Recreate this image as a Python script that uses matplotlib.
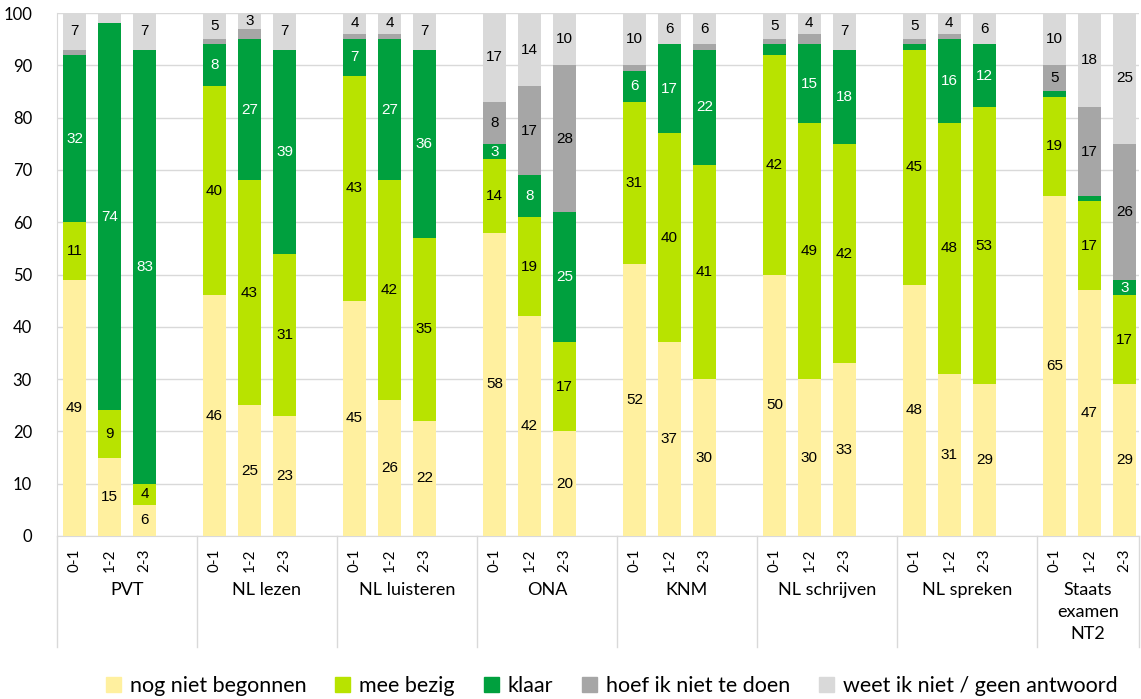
import numpy as np
import matplotlib
matplotlib.use("Agg")
import matplotlib.pyplot as plt
from matplotlib.patches import Patch
import matplotlib.transforms as mtransforms

# data (percent), per group: three periods 0-1, 1-2, 2-3
groups = ["PVT", "NL lezen", "NL luisteren", "ONA", "KNM", "NL schrijven", "NL spreken", "Staats\nexamen\nNT2"]
periods = ["0-1", "1-2", "2-3"]
series = ["nog niet begonnen", "mee bezig", "klaar", "hoef ik niet te doen", "weet ik niet / geen antwoord"]

nog = [49, 15, 6,  46, 25, 23,  45, 26, 22,  58, 42, 20,  52, 37, 30,  50, 30, 33,  48, 31, 29,  65, 47, 29]
mee = [11, 9, 4,   40, 43, 31,  43, 42, 35,  14, 19, 17,  31, 40, 41,  42, 49, 42,  45, 48, 53,  19, 17, 17]
klaar = [32, 74, 83,  8, 27, 39,  7, 27, 36,  3, 8, 25,  6, 17, 22,  2, 15, 18,  1, 16, 12,  1, 1, 3]
hoef = [1, 0, 0,   1, 2, 0,   1, 1, 0,   8, 17, 28,  1, 0, 1,   1, 2, 0,   1, 1, 0,   5, 17, 26]
weet = [7, 2, 7,   5, 3, 7,   4, 4, 7,   17, 14, 10,  10, 6, 6,  5, 4, 7,   5, 4, 6,   10, 18, 25]

colors = ["#FFF09F", "#B8E300", "#00A03E", "#A6A6A6", "#D9D9D9"]
text_colors = ["black", "black", "white", "black", "black"]

font = ["Lato", "DejaVu Sans"]
label_font = ["Liberation Sans", "DejaVu Sans"]

x = np.array([4 * g + j for g in range(len(groups)) for j in range(3)])
x_end = 30.42

fig = plt.figure(figsize=(11.41, 6.99), dpi=100)
ax = fig.add_axes([57 / 1141, 1 - 536 / 699, (1139 - 57) / 1141, (536 - 13) / 699])

bottom = np.zeros(len(x))
for vals, col, tc, name in zip([nog, mee, klaar, hoef, weet], colors, text_colors, series):
    vals = np.array(vals, dtype=float)
    ax.bar(x, vals, bottom=bottom, width=0.66, color=col, label=name, zorder=3)
    for xi, b, v in zip(x, bottom, vals):
        if v >= 3:
            ax.text(xi, b + v / 2, f"{int(v)}", ha="center", va="center",
                    color=tc, fontsize=11, family=label_font, zorder=4)
    bottom += vals

ax.set_xlim(-0.5, x_end)
ax.set_ylim(0, 100)
ax.set_yticks(range(0, 101, 10))
ax.tick_params(axis="y", length=0, pad=18, labelsize=12)
for lab in ax.get_yticklabels():
    lab.set_family(font)
ax.set_xticks(x)
ax.set_xticklabels(periods * len(groups), rotation=90, fontsize=11, family=font)
ax.tick_params(axis="x", length=0, pad=9)

ax.grid(axis="y", color="#D9D9D9", lw=1, zorder=0)
for s in ["top", "right"]:
    ax.spines[s].set_visible(False)
for s in ["left", "bottom"]:
    ax.spines[s].set_color("#D9D9D9")

# group separators and labels below the axis
trans = mtransforms.blended_transform_factory(ax.transData, ax.transAxes)
seps = [4 * g - 0.5 for g in range(len(groups))] + [x_end]
for xs in seps:
    ax.plot([xs, xs], [0, -0.213], color="#D9D9D9", lw=1, transform=trans, clip_on=False)
for g, name in enumerate(groups):
    ax.text((seps[g] + seps[g + 1]) / 2, -0.088, name, ha="center", va="top", fontsize=13,
            family=font, transform=trans, linespacing=1.45)

handles = [Patch(color=c, label=n) for c, n in zip(colors, series)]
fig.legend(handles=handles, loc="center", bbox_to_anchor=(0.536, 1 - 686 / 699),
           ncol=5, frameon=False, prop={"family": font, "size": 15.5},
           handlelength=0.7, handleheight=0.7, handletextpad=0.4, columnspacing=1.35)

fig.savefig("out.png", dpi=100)
